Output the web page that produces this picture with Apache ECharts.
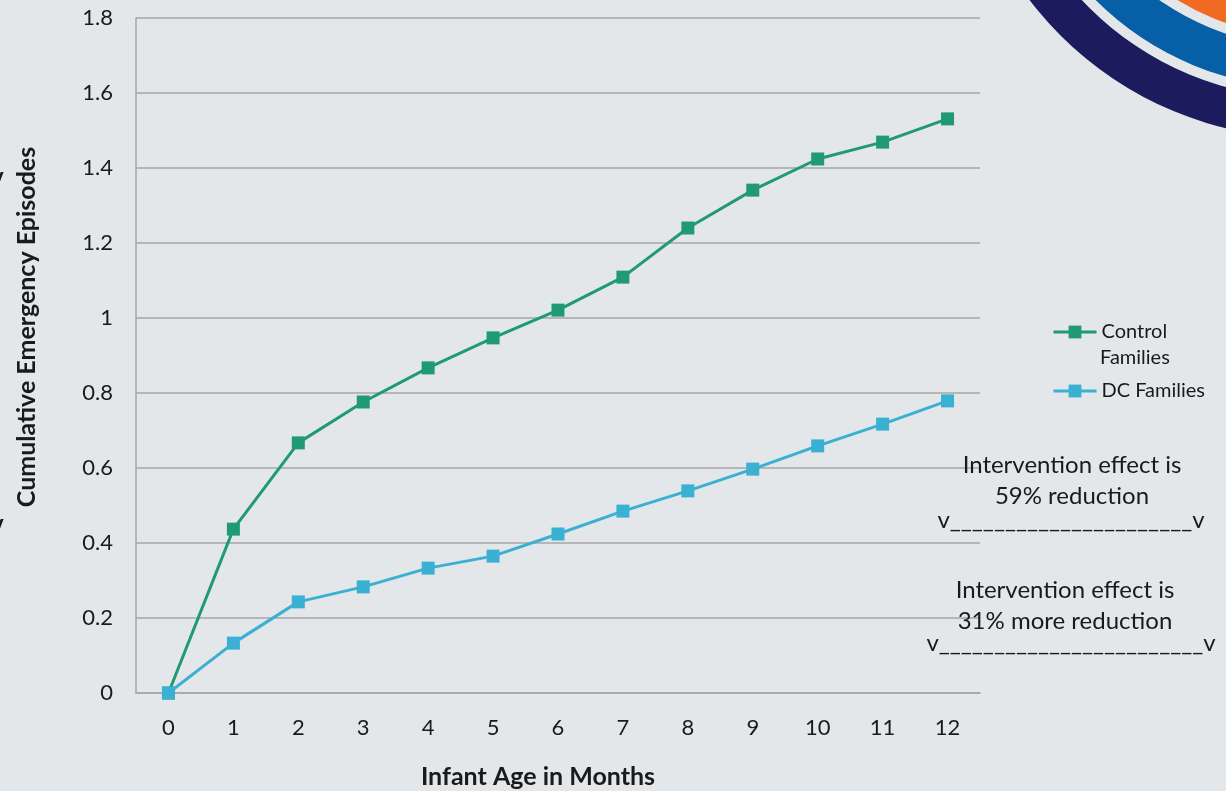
<!DOCTYPE html>
<html>
<head>
<meta charset="utf-8">
<script src="https://cdn.jsdelivr.net/npm/echarts@6/dist/echarts.min.js"></script>
<style>
html,body{margin:0;padding:0;background:#E3E7EA;}
#chart{width:1226px;height:791px;}
</style>
</head>
<body>
<div id="chart"></div>
<script>
const months = ['0','1','2','3','4','5','6','7','8','9','10','11','12'];
const controlFamilies = [0, 0.437, 0.667, 0.776, 0.867, 0.947, 1.021, 1.109, 1.24, 1.341, 1.424, 1.469, 1.531];
const dcFamilies = [0, 0.133, 0.243, 0.283, 0.333, 0.365, 0.424, 0.485, 0.539, 0.597, 0.659, 0.717, 0.779];
const seriesNames = ['Control', 'DC Families'];
const annotation1 = ['Intervention effect is', '59% reduction'];
const annotation2 = ['Intervention effect is', '31% more reduction'];

const FONT = 'Lato';
const TXT = '#1a1a1a';
const chart = echarts.init(document.getElementById('chart'));
const option = {
  backgroundColor: '#E3E7EA',
  animation: false,
  textStyle: {fontFamily: FONT},
  grid: {left: 136, right: 246, top: 18, bottom: 98, containLabel: false},
  legend: {
    orient: 'vertical',
    left: 1052,
    top: 320,
    padding: 0,
    itemWidth: 43,
    itemHeight: 16,
    itemGap: 35,
    lineStyle: {width: 3},
    textStyle: {fontFamily: FONT, fontSize: 20, color: TXT, lineHeight: 24},
    data: seriesNames
  },
  xAxis: {
    type: 'category',
    data: months,
    boundaryGap: true,
    axisLine: {lineStyle: {color: '#A6A6A6', width: 1.5}},
    axisTick: {show: false},
    axisLabel: {fontFamily: FONT, fontSize: 22, color: TXT, margin: 24}
  },
  yAxis: {
    type: 'value',
    min: 0, max: 1.8, interval: 0.2,
    axisLine: {show: true, lineStyle: {color: '#A6A6A6', width: 1.5}},
    axisTick: {show: false},
    splitLine: {lineStyle: {color: '#A6A6A6', width: 1.5}},
    axisLabel: {fontFamily: FONT, fontSize: 22, color: TXT, margin: 23,
      formatter: v => String(Math.round(v * 10) / 10)}
  },
  series: [
    {name: seriesNames[0], type: 'line', data: controlFamilies, symbol: 'rect', symbolSize: 13,
     lineStyle: {color: '#1F9A73', width: 3}, itemStyle: {color: '#1F9A73'}},
    {name: seriesNames[1], type: 'line', data: dcFamilies, symbol: 'rect', symbolSize: 13,
     lineStyle: {color: '#3AB0D3', width: 3}, itemStyle: {color: '#3AB0D3'}}
  ],
  graphic: [
    {type: 'ring', shape: {cx: 1308, cy: -212, r: 350, r0: 310}, style: {fill: '#1B1B5E'}, z: 1},
    {type: 'ring', shape: {cx: 1308, cy: -212, r: 300, r0: 259}, style: {fill: '#075FA8'}, z: 1},
    {type: 'ring', shape: {cx: 1308, cy: -212, r: 249, r0: 180}, style: {fill: '#F06A24'}, z: 1},
    {type: 'text', x: 27, y: 327, rotation: Math.PI / 2, z: 5,
     style: {text: 'Cumulative Emergency Episodes', font: 'bold 25px ' + FONT, fill: TXT, textAlign: 'center', textVerticalAlign: 'middle'}},
    {type: 'text', x: 538, y: 777, z: 5,
     style: {text: 'Infant Age in Months', font: 'bold 25px ' + FONT, fill: TXT, textAlign: 'center', textVerticalAlign: 'middle'}},
    {type: 'text', x: 1100, y: 358, z: 5,
     style: {text: 'Families', font: '20px ' + FONT, fill: TXT, textAlign: 'left', textVerticalAlign: 'middle'}},
    {type: 'text', x: 1072, y: 481, z: 5,
     style: {text: annotation1.join('\n'), font: '24px ' + FONT, lineHeight: 31, fill: TXT, textAlign: 'center', textVerticalAlign: 'middle'}},
    {type: 'text', x: 1071, y: 520, z: 5,
     style: {text: 'v______________________v', font: '24px ' + FONT, fill: TXT, textAlign: 'center', textVerticalAlign: 'middle'}},
    {type: 'text', x: 1065, y: 606, z: 5,
     style: {text: annotation2.join('\n'), font: '24px ' + FONT, lineHeight: 31, fill: TXT, textAlign: 'center', textVerticalAlign: 'middle'}},
    {type: 'text', x: 1071, y: 643, z: 5,
     style: {text: 'v________________________v', font: '24px ' + FONT, fill: TXT, textAlign: 'center', textVerticalAlign: 'middle'}},
    {type: 'text', x: -9, y: 177, z: 5,
     style: {text: 'v', font: 'bold 24px ' + FONT, fill: TXT, textAlign: 'left', textVerticalAlign: 'middle'}},
    {type: 'text', x: -9, y: 524, z: 5,
     style: {text: 'v', font: 'bold 24px ' + FONT, fill: TXT, textAlign: 'left', textVerticalAlign: 'middle'}}
  ]
};
chart.setOption(option);
</script>
</body>
</html>
